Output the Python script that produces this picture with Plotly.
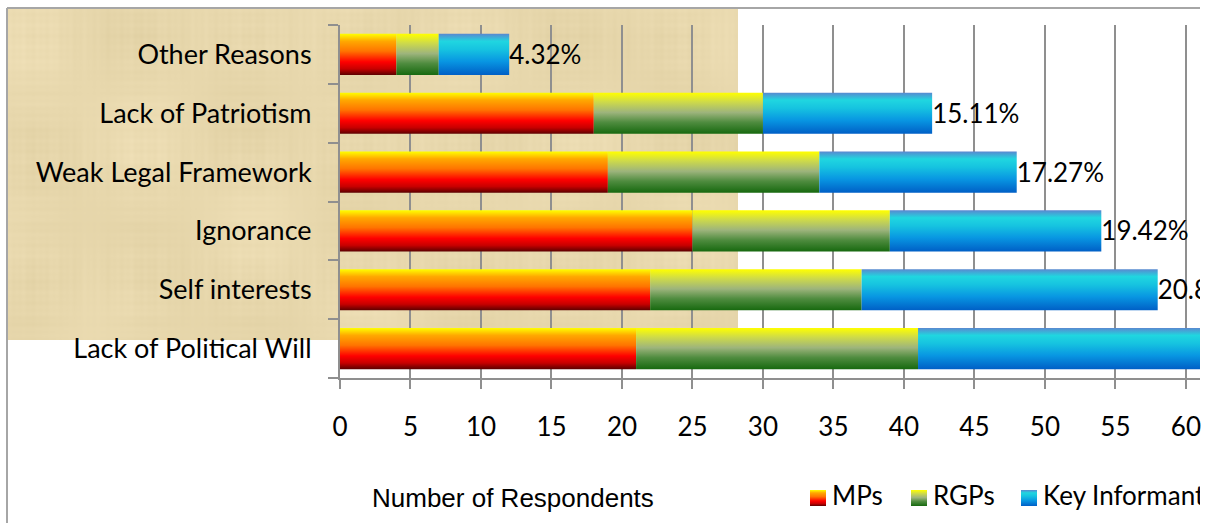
import base64
import struct
import zlib

import numpy as np
import plotly.graph_objects as go

# Reasons, listed bottom to top as they sit on the y axis
categories = ["Lack of Political Will", "Self interests", "Ignorance",
              "Weak Legal Framework", "Lack of Patriotism", "Other Reasons"]
mps = [21, 22, 25, 19, 18, 4]
rgps = [20, 15, 14, 15, 12, 3]
key_informants = [23, 21, 15, 14, 12, 5]
series_names = ["MPs", "RGPs", "Key Informants"]
x_ticks = list(range(0, 65, 5))

W, H = 1211, 523
FONT = "Lato"
GRID = "#8f8f8f"

# vertical gradients, bottom (0) to top (1)
gradients = [
    [[0, "#5c0000"], [0.15, "#c80000"], [0.32, "#ff0000"], [0.58, "#ff7400"],
     [0.82, "#ffa800"], [1, "#ffff00"]],
    [[0, "#17690f"], [0.28, "#4f8c3f"], [0.52, "#9db47c"], [0.78, "#cfdb48"],
     [1, "#ffff00"]],
    [[0, "#005fc6"], [0.33, "#0896e2"], [0.62, "#16c3e0"], [0.82, "#20d6e0"],
     [1, "#5a88d0"]],
]


def parchment_png(w, h):
    """Papyrus-like fibre texture built from layered sine waves."""
    yy, xx = np.mgrid[0:h, 0:w].astype(float)
    blotch = (np.sin(xx / 37.0 + 1.3) * np.sin(yy / 29.0 + 0.4)
              + 0.6 * np.sin(xx / 61.0 - yy / 47.0 + 2.1)
              + 0.5 * np.sin(xx / 23.0 + yy / 71.0))
    vfib = (np.sin(xx * 0.93) + np.sin(xx * 0.41 + 1.7)
            + np.sin(xx * 0.17 + 0.3)) / 3.0
    hfib = (np.sin(yy * 0.87 + 0.5) + np.sin(yy * 0.33 + 2.2)
            + np.sin(yy * 0.13 + 1.1)) / 3.0
    shade = 2.2 * blotch + 2.4 * vfib * (0.6 + 0.4 * np.sin(yy / 19.0)) \
        + 2.4 * hfib * (0.6 + 0.4 * np.sin(xx / 17.0))
    base = np.array([232.0, 216.0, 173.0])
    tint = np.array([1.0, 1.05, 1.35])
    img = base[None, None, :] + shade[:, :, None] * tint[None, None, :]
    img = np.clip(img, 0, 255).astype(np.uint8)
    raw = b"".join(b"\x00" + img[r].tobytes() for r in range(h))

    def chunk(tag, data):
        body = tag + data
        return (struct.pack(">I", len(data)) + body
                + struct.pack(">I", zlib.crc32(body) & 0xFFFFFFFF))

    png = (b"\x89PNG\r\n\x1a\n"
           + chunk(b"IHDR", struct.pack(">IIBBBBB", w, h, 8, 2, 0, 0, 0))
           + chunk(b"IDAT", zlib.compress(raw, 9))
           + chunk(b"IEND", b""))
    return "data:image/png;base64," + base64.b64encode(png).decode()


series = [mps, rgps, key_informants]
totals = [sum(v) for v in zip(*series)]
grand_total = sum(totals)
pct_labels = [f"{t / grand_total * 100:.2f}%" for t in totals]

half = 0.35  # half bar thickness in category units
fig = go.Figure()

for s_idx, values in enumerate(series):
    for c_idx, val in enumerate(values):
        left = sum(series[k][c_idx] for k in range(s_idx))
        right = left + val
        y0, y1 = c_idx - half, c_idx + half
        fig.add_trace(go.Scatter(
            x=[left, right, right, left, left],
            y=[y0, y0, y1, y1, y0],
            mode="none", fill="toself",
            fillgradient=dict(type="vertical", colorscale=gradients[s_idx]),
            name=series_names[s_idx], showlegend=False, hoveron="fills",
            xaxis="x", yaxis="y",
        ))

# total share labels at the bar ends (sitting a touch below bar centre)
fig.add_trace(go.Scatter(
    x=totals, y=[i - 0.05 for i in range(len(categories))], mode="text",
    text=pct_labels, textposition="middle right",
    textfont=dict(family=FONT, size=26, color="black"),
    cliponaxis=True, showlegend=False, hoverinfo="skip",
    xaxis="x", yaxis="y",
))

# legend drawn in its own pixel-unit subplot so it clips at the right edge
leg_sq = [810, 911, 1021]
for i, name in enumerate(series_names):
    x0 = leg_sq[i]
    fig.add_trace(go.Scatter(
        x=[x0, x0 + 16, x0 + 16, x0, x0], y=[506, 506, 490, 490, 506],
        mode="none", fill="toself",
        fillgradient=dict(type="vertical", colorscale=gradients[i]),
        showlegend=False, hoverinfo="skip", xaxis="x2", yaxis="y2",
    ))
    fig.add_trace(go.Scatter(
        x=[x0 + 22], y=[498], mode="text", text=[name],
        textposition="middle right",
        textfont=dict(family=FONT, size=26, color="black"),
        cliponaxis=True, showlegend=False, hoverinfo="skip",
        xaxis="x2", yaxis="y2",
    ))


def px_x(p):
    return p / W


def px_y(p):
    return (H - p) / H


shapes = [
    # chart frame
    dict(type="line", xref="paper", yref="paper",
         x0=px_x(7), x1=px_x(1200), y0=px_y(8), y1=px_y(8),
         line=dict(color="#a6a6a6", width=2), layer="above"),
    dict(type="line", xref="paper", yref="paper",
         x0=px_x(7), x1=px_x(7), y0=0, y1=px_y(8),
         line=dict(color="#a6a6a6", width=2), layer="above"),
]

fig.update_layout(
    width=W, height=H,
    margin=dict(l=0, r=0, t=0, b=0, autoexpand=False),
    paper_bgcolor="white", plot_bgcolor="rgba(0,0,0,0)",
    showlegend=False,
    shapes=shapes,
    images=[dict(source=parchment_png(730, 331), xref="paper", yref="paper",
                 x=px_x(8), y=px_y(9), sizex=730 / W, sizey=331 / H,
                 xanchor="left", yanchor="top", sizing="stretch",
                 layer="below")],
    xaxis=dict(
        domain=[px_x(340), px_x(1200)], range=[0, 61.0],
        tickvals=x_ticks, ticktext=[str(t) for t in x_ticks],
        showgrid=True, gridcolor=GRID, gridwidth=2,
        showline=True, linecolor=GRID, linewidth=2,
        ticks="outside", ticklen=9, tickwidth=2, tickcolor=GRID,
        ticklabelstandoff=16, zeroline=False, automargin=False,
        tickfont=dict(family=FONT, size=26, color="black"),
        anchor="y", fixedrange=True,
    ),
    yaxis=dict(
        domain=[px_y(378), px_y(25)], range=[-0.5, len(categories) - 0.5],
        tickvals=list(range(len(categories))), ticktext=categories,
        showgrid=False, zeroline=False, automargin=False,
        showline=True, linecolor=GRID, linewidth=2,
        ticks="", ticklabelstandoff=21,
        minor=dict(tickvals=[i - 0.5 for i in range(len(categories) + 1)],
                   ticks="outside", ticklen=10, tickwidth=2, tickcolor=GRID,
                   showgrid=False),
        tickfont=dict(family=FONT, size=27, color="black"),
        anchor="x", fixedrange=True,
    ),
    xaxis2=dict(domain=[px_x(800), px_x(1200)], range=[800, 1200],
                visible=False, anchor="y2", fixedrange=True, automargin=False),
    yaxis2=dict(domain=[px_y(520), px_y(475)], range=[520, 475],
                visible=False, anchor="x2", fixedrange=True, automargin=False),
    annotations=[
        dict(text="Number of Respondents", xref="paper", yref="paper",
             x=px_x(370), y=px_y(498), xanchor="left", yanchor="middle",
             showarrow=False,
             font=dict(family="Liberation Sans", size=26, color="black")),
    ],
)

fig.write_html("out.html", config={"displayModeBar": False})
